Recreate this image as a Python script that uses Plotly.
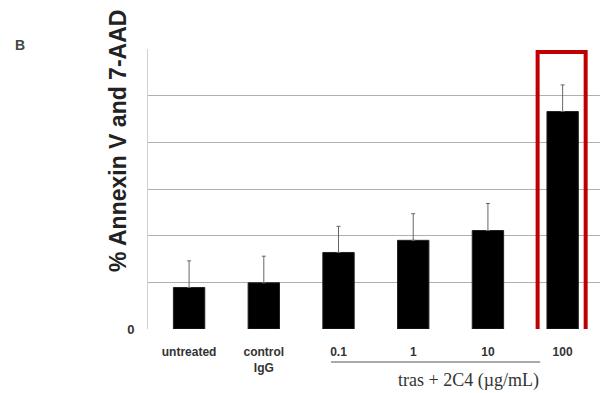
import plotly.graph_objects as go

categories = ["untreated", "control<br>IgG", "0.1", "1", "10", "100"]
values = [8.9, 9.9, 16.4, 19.0, 21.1, 46.6]
err_plus = [5.7, 5.7, 5.6, 5.7, 5.8, 5.7]
y_ticks = [0, 10, 20, 30, 40, 50, 60]
y_ticktext = ["0", "", "", "", "", "", ""]

xs = list(range(len(categories)))

fig = go.Figure()
fig.add_trace(go.Bar(
    x=xs, y=values, width=0.42,
    marker=dict(color="black", line=dict(color="#222", width=1)),
    error_y=dict(type="data", array=err_plus, arrayminus=[0]*len(values),
                 symmetric=False, color="#666", thickness=1, width=2),
))

fig.update_layout(
    width=604, height=393,
    margin=dict(l=148, r=4, t=49, b=64, autoexpand=False),
    paper_bgcolor="white", plot_bgcolor="white",
    showlegend=False,
    xaxis=dict(range=[-0.55, 5.5], tickvals=xs,
               ticktext=["<b>%s</b>" % c for c in categories],
               showgrid=False, zeroline=False, showline=False, ticks="",
               ticklabelstandoff=14,
               tickfont=dict(family="Liberation Sans, Arial", size=12, color="#333"),
               tickangle=0),
    yaxis=dict(range=[0, 60], tickvals=y_ticks,
               ticktext=["<b>%s</b>" % t if t else "" for t in y_ticktext],
               showgrid=True, gridcolor="#b0b0b0", gridwidth=1,
               zeroline=False, showline=True, linecolor="#d0d0d0", linewidth=1,
               ticks="", ticklabelstandoff=10,
               tickfont=dict(family="Liberation Sans, Arial", size=13, color="#333")),
    font=dict(family="Liberation Sans, Arial"),
)

# y title
fig.add_annotation(text="<b>% Annexin V and 7-AAD</b>", textangle=-90,
                   xref="paper", yref="paper", x=(118 - 148) / 452, y=(329 - 141) / 280,
                   xanchor="center", yanchor="middle", showarrow=False,
                   font=dict(family="Liberation Sans, Arial", size=23, color="#222"))
# panel letter
fig.add_annotation(text="<b>B</b>", xref="paper", yref="paper",
                   x=(13 - 148) / 452, y=(329 - 45) / 280, xanchor="left", yanchor="middle",
                   showarrow=False,
                   font=dict(family="Liberation Sans, Arial", size=14, color="#444"))
# group label
fig.add_annotation(text="tras + 2C4 (µg/mL)", xref="x", yref="paper",
                   x=3.74, y=(329 - 380) / 280, xanchor="center", yanchor="middle",
                   showarrow=False,
                   font=dict(family="Liberation Serif, Times New Roman", size=18, color="#333"))
# group underline
fig.add_shape(type="line", xref="x", yref="paper", x0=1.9, x1=4.7,
              y0=(329 - 362) / 280, y1=(329 - 362) / 280, line=dict(color="#555", width=1))
# red highlight box
fig.add_shape(type="rect", xref="x", yref="y", x0=4.665, x1=5.308,
              y0=-6.86, y1=59.36, line=dict(color="#c00000", width=4),
              fillcolor="rgba(0,0,0,0)")

fig.write_html("out.html", config={"displayModeBar": False},
               post_script="document.body.style.margin='0';document.body.style.overflow='hidden';")
